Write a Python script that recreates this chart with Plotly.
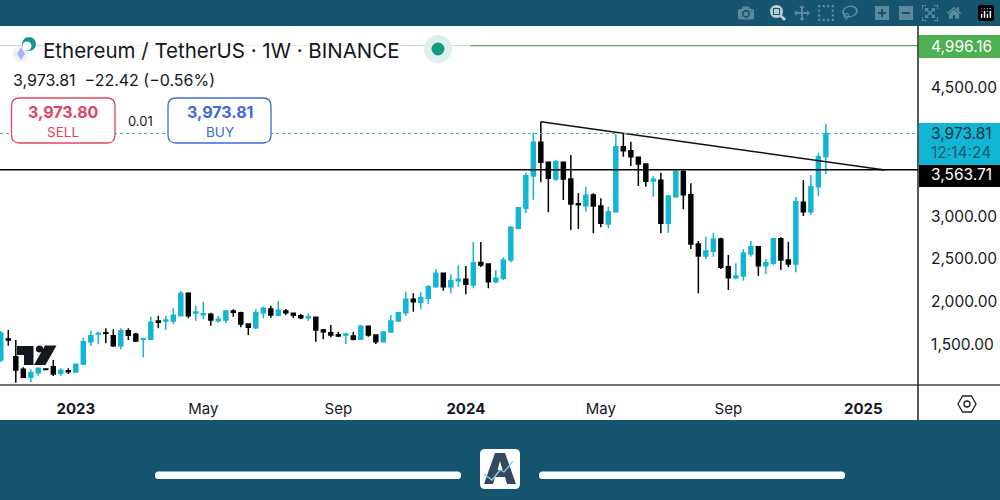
import pandas as pd
import plotly.graph_objects as go

# weekly candles
dates = pd.date_range("2022-10-24", periods=111, freq="7D")
opens = [1318, 1564, 1357, 1209, 1116, 1169, 1213, 1240, 1162, 1193, 1178, 1271, 1532, 1622, 1637, 1602, 1485, 1661, 1619, 1560,
         1560, 1774, 1774, 1774, 1836, 2098, 1868, 1848, 1853, 1778, 1786, 1891, 1871, 1739, 1696, 1871, 1915, 1841, 1891, 1864,
         1836, 1813, 1818, 1669, 1637, 1614, 1611, 1599, 1560, 1712, 1611, 1532, 1646, 1774, 1871, 2028, 1993, 2040, 2176, 2332,
         2176, 2246, 2262, 2196, 2459, 2441, 2234, 2274, 2488, 2859, 3093, 3471, 3865, 3631, 3436, 3631, 3436, 3147, 3123, 3249,
         3120, 2909, 3053, 3814, 3767, 3690, 3611, 3412, 3420, 2917, 3229, 3521, 3252, 2675, 2535, 2590, 2734, 2410, 2281, 2301,
         2558, 2644, 2421, 2449, 2737, 2488, 2441, 3163, 3053, 3346, 3697]
highs = [1657, 1669, 1552, 1233, 1209, 1224, 1220, 1318, 1221, 1221, 1271, 1579, 1661, 1649, 1689, 1677, 1689, 1689, 1637, 1572,
         1825, 1836, 1833, 1923, 2125, 2110, 1950, 2000, 1871, 1833, 1903, 1911, 1883, 1747, 1911, 1942, 1953, 2008, 1915, 1871,
         1856, 1864, 1825, 1681, 1727, 1649, 1637, 1649, 1727, 1719, 1611, 1649, 1845, 1883, 2117, 2098, 2110, 2196, 2383, 2332,
         2321, 2430, 2418, 2699, 2699, 2441, 2371, 2520, 2878, 3108, 3509, 3977, 4106, 3635, 3658, 3635, 3717, 3268, 3346, 3268,
         3210, 3112, 3962, 3970, 3872, 3697, 3619, 3471, 3509, 3249, 3541, 3541, 3385, 2710, 2761, 2807, 2749, 2547, 2449, 2613,
         2710, 2652, 2500, 2745, 2754, 2702, 3229, 3424, 3483, 3736, 4079]
lows = [1295, 1485, 1052, 1111, 1057, 1134, 1200, 1131, 1131, 1154, 1174, 1260, 1485, 1502, 1513, 1470, 1443, 1552, 1529, 1350,
        1552, 1689, 1669, 1739, 1836, 1806, 1778, 1794, 1719, 1754, 1747, 1825, 1701, 1611, 1681, 1806, 1813, 1833, 1845, 1809,
        1794, 1778, 1532, 1560, 1584, 1584, 1505, 1548, 1552, 1591, 1505, 1525, 1637, 1766, 1833, 1883, 1911, 1973, 2164, 2129,
        2098, 2176, 2087, 2157, 2406, 2157, 2215, 2254, 2461, 2847, 3034, 3190, 3397, 3046, 3416, 3190, 2839, 2851, 3053, 2800,
        2871, 2859, 3041, 3697, 3588, 3354, 3346, 3229, 2800, 2807, 3213, 3081, 2617, 2098, 2500, 2527, 2383, 2137, 2262, 2246,
        2527, 2301, 2324, 2430, 2371, 2403, 2344, 3003, 3015, 3237, 3494]
closes = [1630, 1552, 1201, 1116, 1169, 1221, 1207, 1154, 1197, 1181, 1268, 1532, 1602, 1630, 1630, 1485, 1661, 1607, 1540, 1567,
          1759, 1759, 1786, 1841, 2098, 1836, 1880, 1860, 1786, 1794, 1891, 1876, 1739, 1701, 1871, 1923, 1845, 1899, 1871, 1841,
          1813, 1825, 1669, 1649, 1611, 1599, 1619, 1560, 1712, 1611, 1532, 1646, 1774, 1871, 2028, 2000, 2047, 2176, 2332, 2176,
          2246, 2262, 2204, 2456, 2430, 2234, 2274, 2488, 2871, 3100, 3474, 3865, 3631, 3444, 3638, 3436, 3143, 3135, 3245, 3120,
          2917, 3053, 3814, 3767, 3697, 3611, 3409, 3432, 2917, 3237, 3521, 3252, 2675, 2535, 2593, 2730, 2403, 2281, 2301, 2566,
          2644, 2421, 2456, 2737, 2488, 2441, 3170, 3053, 3346, 3697, 3968]

price_ticks = [1500, 2000, 2500, 3000, 4500]
price_labels = ["1,500.00", "2,000.00", "2,500.00", "3,000.00", "4,500.00"]
time_ticks = ["2023-01-02", "2023-05-01", "2023-09-04", "2024-01-01", "2024-05-06", "2024-09-02", "2025-01-06"]
time_labels = ["<b>2023</b>", "May", "Sep", "<b>2024</b>", "May", "Sep", "<b>2025</b>"]

green_level = 4996
last_level = 3968
black_level = 3545
trend_x = ["2024-03-11", "2025-01-26"]
trend_y = [4106, 3541]

TEAL = "#15556f"
CYAN = "#12b5d3"
FONT = "Inter"


# pixel helpers, the plot area is 918 x 359 at (0, 26)
def px(x):
    return x / 918


def py(y):
    return (385 - y) / 359


def rect(x0, y0, x1, y1, fill, line=None, width=0):
    return dict(type="rect", xref="paper", yref="paper", x0=px(x0), x1=px(x1), y0=py(y0), y1=py(y1),
                fillcolor=fill, line=dict(color=line or fill, width=width))


def poly(points, fill, line=None, width=0):
    path = "M " + " L ".join(f"{px(a)},{py(b)}" for a, b in points) + " Z"
    return dict(type="path", xref="paper", yref="paper", path=path, fillcolor=fill,
                line=dict(color=line or fill, width=width))


def rounded(x0, y0, x1, y1, r, fill, line=None, width=0):
    path = (f"M {px(x0 + r)},{py(y0)} L {px(x1 - r)},{py(y0)} Q {px(x1)},{py(y0)} {px(x1)},{py(y0 + r)} "
            f"L {px(x1)},{py(y1 - r)} Q {px(x1)},{py(y1)} {px(x1 - r)},{py(y1)} "
            f"L {px(x0 + r)},{py(y1)} Q {px(x0)},{py(y1)} {px(x0)},{py(y1 - r)} "
            f"L {px(x0)},{py(y0 + r)} Q {px(x0)},{py(y0)} {px(x0 + r)},{py(y0)} Z")
    return dict(type="path", xref="paper", yref="paper", path=path, fillcolor=fill,
                line=dict(color=line or fill, width=width))


def circle(cx, cy, r, fill, line=None, width=0):
    return dict(type="circle", xref="paper", yref="paper", x0=px(cx - r), x1=px(cx + r), y0=py(cy + r), y1=py(cy - r),
                fillcolor=fill, line=dict(color=line or fill, width=width))


def hline(x0, x1, level, color, width, dash="solid"):
    return dict(type="line", xref="paper", yref="y", x0=px(x0), x1=px(x1), y0=level, y1=level,
                line=dict(color=color, width=width, dash=dash))


def label(x, y, text, size, color="#131722", anchor="left", bg=None):
    return dict(xref="paper", yref="paper", x=px(x), y=py(y), text=text, showarrow=False, xanchor=anchor,
                yanchor="middle", font=dict(family=FONT, size=size, color=color), bgcolor=bg, borderpad=0)


fig = go.Figure()

fig.add_trace(go.Candlestick(
    x=dates, open=opens, high=highs, low=lows, close=closes,
    increasing=dict(line=dict(color=CYAN, width=1.5), fillcolor=CYAN),
    decreasing=dict(line=dict(color="#000000", width=1.5), fillcolor="#000000"),
    hoverinfo="skip", showlegend=False,
))
fig.add_trace(go.Scatter(x=trend_x, y=trend_y, mode="lines", line=dict(color="#111111", width=1.5),
                         hoverinfo="skip", showlegend=False))

shapes = [
    # white panel behind the chart and both axes
    dict(type="rect", xref="paper", yref="paper", layer="below", x0=px(0), x1=px(1000), y0=py(420), y1=py(26),
         fillcolor="#ffffff", line=dict(width=0)),
    hline(0, 470, green_level, "#bcdcbc", 1),
    hline(470, 918, green_level, "#5aa85e", 1.2),
    hline(0, 918, last_level, "#3fb3b5", 1, "dot"),
    hline(0, 918, black_level, "#000000", 1.5),
    # bottom and price axis rules
    dict(type="line", xref="paper", yref="paper", x0=px(0), x1=px(1000), y0=py(385), y1=py(385),
         line=dict(color="#444444", width=1.5)),
    dict(type="line", xref="paper", yref="paper", x0=px(918), x1=px(918), y0=py(420), y1=py(26),
         line=dict(color="#222222", width=1.5)),
    # price tags
    rect(919, 35, 1000, 58, "#4caf50"),
    rect(919, 123, 1000, 165, CYAN),
    rect(919, 165, 1000, 187, "#000000"),
    # sell / buy boxes
    rounded(11.5, 98, 115, 143, 8, "#ffffff", "#e2445f", 1.3),
    rounded(168, 98, 271, 143, 8, "#ffffff", "#3d69dc", 1.3),
    # live dot
    circle(438, 49, 14, "#ddf0ec"),
    circle(438, 49, 6.5, "#119a80"),
    # symbol icons
    circle(21, 54, 8, "#eef0fa"),
    poly([(21, 47), (25, 54), (21, 60), (17, 54)], "#a9b5ec"),
    circle(29, 44, 7, "#11988c"),
    circle(27, 46, 4.5, "#ffffff"),
    # tradingview mark
    poly([(17, 346), (33.5, 346), (33.5, 365), (24, 365), (24, 355), (17, 355)], "#131722"),
    circle(39.5, 349, 3.6, "#131722"),
    poly([(45, 345.5), (56.5, 345.5), (45.5, 365), (34, 365)], "#131722"),
    # settings icon
    poly([(958, 404), (962.5, 396), (971.5, 396), (976, 404), (971.5, 412), (962.5, 412)], "rgba(0,0,0,0)", "#222222", 1.3),
    circle(967, 404, 3, "rgba(0,0,0,0)", "#222222", 1.3),
    # footer bars and badge
    rounded(155, 471.5, 461, 479, 3.5, "#ffffff"),
    rounded(539, 471.5, 845, 479, 3.5, "#ffffff"),
    rounded(480, 449, 520, 489, 5, "#ffffff"),
    poly([(495, 453), (505, 453), (516, 484), (507, 484), (505, 477), (495, 477), (493, 484), (484, 484)], "#33495f"),
    poly([(497.5, 470), (502.5, 470), (500, 461)], "#ffffff"),
    dict(type="path", xref="paper", yref="paper",
         path=f"M {px(484)},{py(474)} L {px(492)},{py(480)} L {px(500)},{py(470)} L {px(504)},{py(472)} L {px(513)},{py(461)}",
         line=dict(color="#7fd0ee", width=1.3)),
]

annotations = [
    label(42, 50, "Ethereum / TetherUS · 1W · BINANCE", 20.5, bg="rgba(255,255,255,0.6)"),
    label(12, 80, "3,973.81&nbsp;&nbsp;−22.42 (−0.56%)", 16),
    label(63, 112, "<b>3,973.80</b>", 16, "#e2445f", "center"),
    label(63, 132, "SELL", 13.5, "#e2445f", "center"),
    label(127, 121, "0.01", 13),
    label(219.5, 112, "<b>3,973.81</b>", 16, "#3d69dc", "center"),
    label(219.5, 132, "BUY", 13.5, "#3d69dc", "center"),
    label(930, 46, "4,996.16", 15.5, "#ffffff"),
    label(930, 133, "3,973.81", 15.5, "#10303e"),
    label(930, 152, "12:14:24", 15.5, "#0e5a70"),
    label(930, 175, "3,563.71", 15.5, "#ffffff"),
]

fig.update_layout(
    width=1000, height=500,
    margin=dict(l=0, r=82, t=26, b=115),
    paper_bgcolor=TEAL, plot_bgcolor="#ffffff",
    font=dict(family=FONT, color="#131722"),
    showlegend=False, hovermode=False,
    shapes=shapes, annotations=annotations,
    xaxis=dict(
        type="date", range=["2022-10-23 06:00", "2025-02-26"], rangeslider=dict(visible=False),
        tickvals=time_ticks, ticktext=time_labels, tickfont=dict(size=15, family=FONT),
        ticks="outside", ticklen=10, tickcolor="rgba(0,0,0,0)", showgrid=False, zeroline=False, showline=False,
    ),
    yaxis=dict(
        side="right", range=[1025.5, 5225.8],
        tickvals=price_ticks, ticktext=price_labels, tickfont=dict(size=15.5, family=FONT),
        ticks="outside", ticklen=9, tickcolor="rgba(0,0,0,0)", showgrid=False, zeroline=False, showline=False,
    ),
    boxgap=0.25,
)

# the page keeps the default body margin otherwise
fig.write_html("out.html", post_script="document.body.style.margin='0';")
